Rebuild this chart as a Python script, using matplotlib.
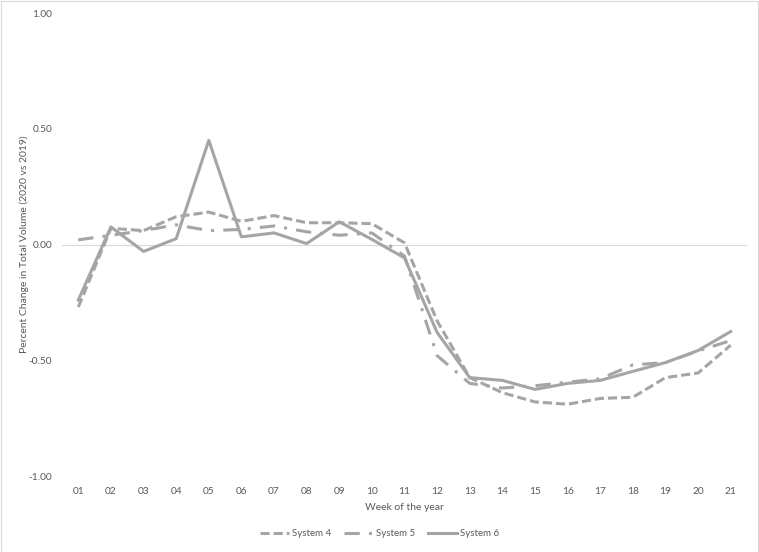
import matplotlib
matplotlib.use("Agg")
import matplotlib.pyplot as plt
from matplotlib.patches import Rectangle

weeks = ["01", "02", "03", "04", "05", "06", "07", "08", "09", "10", "11",
         "12", "13", "14", "15", "16", "17", "18", "19", "20", "21"]
system4 = [-0.27, 0.07, 0.06, 0.12, 0.14, 0.10, 0.125, 0.094, 0.094, 0.09, 0.007,
           -0.33, -0.575, -0.64, -0.68, -0.69, -0.665, -0.66, -0.575, -0.555, -0.435]
system5 = [0.02, 0.04, 0.06, 0.085, 0.06, 0.065, 0.08, 0.055, 0.04, 0.05, -0.05,
           -0.48, -0.60, -0.62, -0.61, -0.595, -0.58, -0.52, -0.51, -0.46, -0.415]
system6 = [-0.24, 0.076, -0.03, 0.025, 0.45, 0.033, 0.05, 0.004, 0.098, 0.022, -0.058,
           -0.38, -0.575, -0.587, -0.626, -0.60, -0.587, -0.548, -0.51, -0.458, -0.376]
yticks = [-1.0, -0.5, 0.0, 0.5, 1.0]

plt.rcParams['font.family'] = ['Lato', 'DejaVu Sans']
txt = '#595959'
line_c = '#A5A5A5'

W, H = 759, 552
fig = plt.figure(figsize=(W / 100, H / 100), dpi=100)
fig.patch.set_facecolor('white')
fig.add_artist(Rectangle((0.5 / W, 0.5 / H), 1 - 1.5 / W, 1 - 1.5 / H,
                         transform=fig.transFigure, fill=False,
                         edgecolor='#D9D9D9', lw=0.8))

ax = fig.add_axes([62 / W, 1 - 476 / H, (747 - 62) / W, (476 - 13) / H])
x = list(range(len(weeks)))
lw = 2.2
ax.axhline(0, color='#D9D9D9', lw=0.8, zorder=1)
ax.plot(x, system4, color=line_c, lw=lw, linestyle=(0, (3, 1.3)), label='System 4', zorder=3)
ax.plot(x, system5, color=line_c, lw=lw, linestyle=(0, (5, 3, 1, 3)), label='System 5', zorder=3)
ax.plot(x, system6, color=line_c, lw=lw, linestyle='-', label='System 6', zorder=3)

ax.set_xlim(-0.5, len(weeks) - 0.5)
ax.set_ylim(-1.0, 1.0)
ax.set_xticks(x)
ax.set_xticklabels(weeks)
ax.set_yticks(yticks)
ax.set_yticklabels([f"{v:.2f}" for v in yticks])
ax.tick_params(axis='both', length=0, labelsize=7.3, labelcolor=txt)
ax.tick_params(axis='y', pad=7)
ax.tick_params(axis='x', pad=8)
for s in ax.spines.values():
    s.set_visible(False)

ax.set_xlabel('Week of the year', fontsize=7.5, color=txt, labelpad=5)
fig.text(24 / W, 1 - 244 / H, 'Percent Change in Total Volume (2020 vs 2019)',
         rotation=90, ha='center', va='center', fontsize=7.5, color=txt)

fig.legend(loc='center', bbox_to_anchor=(0.5, 1 - 534 / H), ncol=3, frameon=False,
           fontsize=7, labelcolor=txt, handlelength=3.0, handletextpad=0.3,
           columnspacing=1.3)

fig.savefig('out.png', dpi=100)
